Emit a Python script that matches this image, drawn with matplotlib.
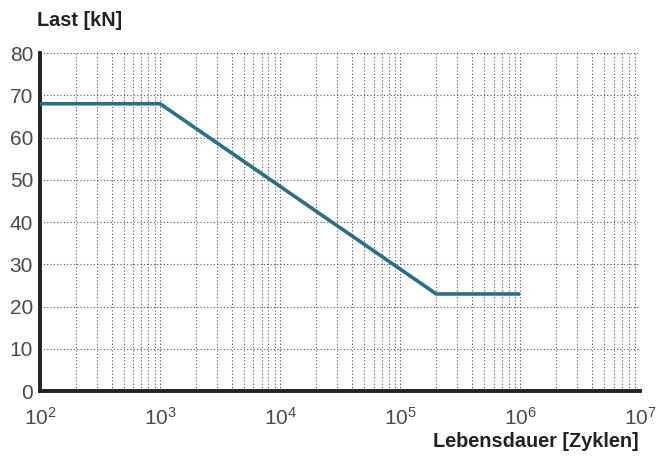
import matplotlib
matplotlib.use('Agg')
import matplotlib.pyplot as plt
from matplotlib.ticker import LogLocator, FixedLocator, NullFormatter

plt.rcParams['font.family'] = ['Liberation Sans', 'DejaVu Sans']
plt.rcParams['mathtext.fontset'] = 'custom'
plt.rcParams['mathtext.rm'] = 'Liberation Sans'
plt.rcParams['mathtext.default'] = 'regular'

# S-N curve (Wöhler) data
cycles = [1e2, 1e3, 2e5, 1e6]
load_kn = [68, 68, 23, 23]
y_ticks = [0, 10, 20, 30, 40, 50, 60, 70, 80]
x_decades = [1e2, 1e3, 1e4, 1e5, 1e6, 1e7]
x_labels = ['$10^2$', '$10^3$', '$10^4$', '$10^5$', '$10^6$', '$10^7$']

fig = plt.figure(figsize=(6.56, 4.57), dpi=100)
ax = fig.add_axes([0.061, 0.144, 0.915, 0.740])

ax.plot(cycles, load_kn, color='#2b6f87', lw=2.6, solid_capstyle='butt', zorder=3)

ax.set_xscale('log')
ax.set_xlim(1e2, 1e7)
ax.set_ylim(0, 80)

ax.xaxis.set_major_locator(FixedLocator(x_decades))
ax.set_xticklabels(x_labels)
ax.xaxis.set_minor_locator(LogLocator(base=10, subs=range(2, 10), numticks=20))
ax.xaxis.set_minor_formatter(NullFormatter())
ax.set_yticks(y_ticks)

ax.grid(which='both', axis='x', linestyle=(0, (1, 2)), color='#555555', lw=0.8)
ax.grid(which='major', axis='y', linestyle=(0, (1, 2)), color='#555555', lw=0.8)

for s in ['top', 'right']:
	ax.spines[s].set_visible(False)
for s in ['left', 'bottom']:
	ax.spines[s].set_linewidth(2.8)
	ax.spines[s].set_color('#222222')

ax.tick_params(which='both', length=0, labelsize=15, colors='#4a4a4a', pad=5)
ax.tick_params(axis='x', pad=11)

fig.text(0.056, 0.956, 'Last [kN]', fontsize=14.3, fontweight='bold', color='#222222', va='center')
fig.text(0.974, 0.035, 'Lebensdauer [Zyklen]', fontsize=14.3, fontweight='bold', color='#222222',
	va='center', ha='right')

plt.savefig('out.png', dpi=100)
